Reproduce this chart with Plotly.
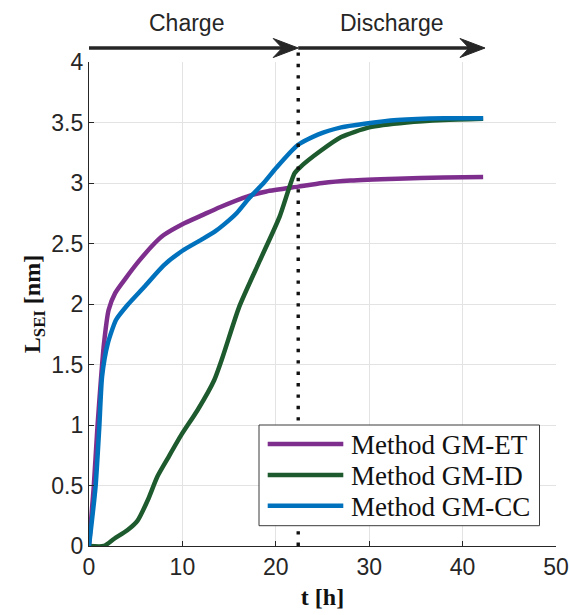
import plotly.graph_objects as go

# SEI layer thickness L_SEI [nm] over time t [h] for three growth models
t_et = [0, 0.5, 0.9, 1.3, 1.6, 2.1, 2.8, 4.0, 5.4, 7.0, 8.0, 10.0, 12.0, 14.0,
        17.0, 19.0, 22.4, 25.0, 28.0, 33.0, 38.0, 42.2]
l_et = [0, 0.48, 0.98, 1.40, 1.67, 1.95, 2.09, 2.22, 2.36, 2.50, 2.57, 2.66, 2.73,
        2.80, 2.89, 2.93, 2.97, 3.00, 3.02, 3.035, 3.045, 3.05]

t_id = [0, 1.6, 2.7, 4.1, 5.2, 6.3, 7.3, 8.4, 9.9, 11.6, 13.4, 14.3, 16.1, 18.3,
        20.4, 22.0, 22.6, 24.7, 27.0, 30.0, 34.0, 38.0, 42.2]
l_id = [0, 0, 0.06, 0.13, 0.21, 0.38, 0.57, 0.72, 0.92, 1.12, 1.37, 1.56, 1.98,
        2.36, 2.72, 3.08, 3.13, 3.26, 3.38, 3.46, 3.50, 3.52, 3.53]

t_cc = [0, 0.7, 1.1, 1.4, 2.0, 2.9, 4.1, 5.9, 8.0, 10.0, 12.0, 13.5, 14.5, 15.8,
        17.2, 18.7, 20.1, 22.3, 24.5, 27.0, 29.5, 33.0, 38.0, 42.2]
l_cc = [0, 0.49, 0.98, 1.40, 1.67, 1.87, 1.99, 2.14, 2.32, 2.44, 2.53, 2.60, 2.66,
        2.75, 2.88, 3.00, 3.13, 3.31, 3.40, 3.46, 3.49, 3.52, 3.535, 3.535]

series_names = ["Method GM-ET", "Method GM-ID", "Method GM-CC"]
series_colors = ["#7E2F8E", "#1D5A2D", "#0072BD"]

# operating phases
charge_end = 22.4
discharge_end = 42.4
phase_labels = ["Charge", "Discharge"]
phase_label_x = [10.45, 32.4]

x_ticks = [0, 10, 20, 30, 40, 50]
y_ticks = [0, 0.5, 1, 1.5, 2, 2.5, 3, 3.5, 4]
y_tick_text = ["0", "0.5", "1", "1.5", "2", "2.5", "3", "3.5", "4"]

W, H = 570, 615
ML, MR, MT, MB = 89, 14, 62, 69
PW, PH = W - ML - MR, H - MT - MB


def px_x(px):
    return (px - ML) / PW


def px_y(py):
    return (H - MB - py) / PH


SANS = "Liberation Sans, Arial, sans-serif"
SERIF = "Liberation Serif, Times New Roman, serif"
INK = "#262626"

fig = go.Figure()
for t, l, name, color in zip([t_et, t_id, t_cc], [l_et, l_id, l_cc],
                             series_names, series_colors):
    fig.add_trace(go.Scatter(x=t, y=l, mode="lines", name=name,
                             line=dict(color=color, width=4.5, shape="spline",
                                       smoothing=0.6),
                             showlegend=False))

arrow_y = px_y(48)
shapes = []
# vertical dotted separator between charge and discharge
shapes.append(dict(type="line", xref="x", yref="paper", x0=charge_end, x1=charge_end,
                   y0=0, y1=arrow_y, line=dict(color="#111111", width=3.4,
                                               dash="3.4px,8px"), layer="above"))
# phase arrows: shaft + filled head
for x0, x1 in [(0, charge_end), (charge_end, discharge_end)]:
    shapes.append(dict(type="line", xref="x", yref="paper", x0=x0, x1=x1 - 1.0,
                       y0=arrow_y, y1=arrow_y, line=dict(color=INK, width=3.3),
                       layer="above"))
    shapes.append(dict(type="path", xref="x", yref="paper", xsizemode="pixel",
                       ysizemode="pixel", xanchor=x1, yanchor=arrow_y,
                       path="M0,0 L-25,9.5 L-16,0 L-25,-9.5 Z",
                       fillcolor=INK, line=dict(color=INK, width=1), layer="above"))

annotations = []
for label, lx in zip(phase_labels, phase_label_x):
    annotations.append(dict(text=label, x=lx, xref="x", y=px_y(23), yref="paper",
                            showarrow=False, xanchor="center", yanchor="middle",
                            font=dict(family=SANS, size=23, color=INK)))

# legend box drawn in plot-fraction coordinates
box_l, box_r, box_t, box_b = 259, 539.5, 425, 525.7
shapes.append(dict(type="rect", xref="paper", yref="paper",
                   x0=px_x(box_l), x1=px_x(box_r), y0=px_y(box_b), y1=px_y(box_t),
                   fillcolor="white", line=dict(color="#3a3a3a", width=1),
                   layer="above"))
row_y = [444, 475, 505.7]
for name, color, ry in zip(series_names, series_colors, row_y):
    shapes.append(dict(type="line", xref="paper", yref="paper",
                       x0=px_x(267.7), x1=px_x(343.3), y0=px_y(ry), y1=px_y(ry),
                       line=dict(color=color, width=4.5), layer="above"))
    annotations.append(dict(text=name, x=px_x(349), xref="paper", y=px_y(ry + 1),
                            yref="paper", showarrow=False, xanchor="left",
                            yanchor="middle",
                            font=dict(family=SERIF, size=27, color="#111111")))

axis_common = dict(showline=True, linecolor=INK, linewidth=1.3, mirror=False,
                   ticks="inside", ticklen=5, tickwidth=1.1, tickcolor=INK,
                   showgrid=True, gridcolor="#E3E3E3", gridwidth=1,
                   zeroline=False, automargin=False,
                   tickfont=dict(family=SANS, size=23, color=INK))

fig.update_layout(
    width=W, height=H,
    margin=dict(l=ML, r=MR, t=MT, b=MB, pad=0, autoexpand=False),
    paper_bgcolor="white", plot_bgcolor="white",
    xaxis=dict(range=[0, 50], tickvals=x_ticks, ticktext=[str(v) for v in x_ticks],
               title=dict(text="<b>t [h]</b>", standoff=9,
                          font=dict(family=SERIF, size=24, color="#111111")),
               **axis_common),
    yaxis=dict(range=[0, 4], tickvals=y_ticks, ticktext=y_tick_text,
               title=dict(text="<b>L<sub>SEI</sub> [nm]</b>", standoff=3,
                          font=dict(family=SERIF, size=24, color="#111111")),
               **axis_common),
    shapes=shapes,
    annotations=annotations,
    showlegend=False,
)

fig.write_html("out.html")
